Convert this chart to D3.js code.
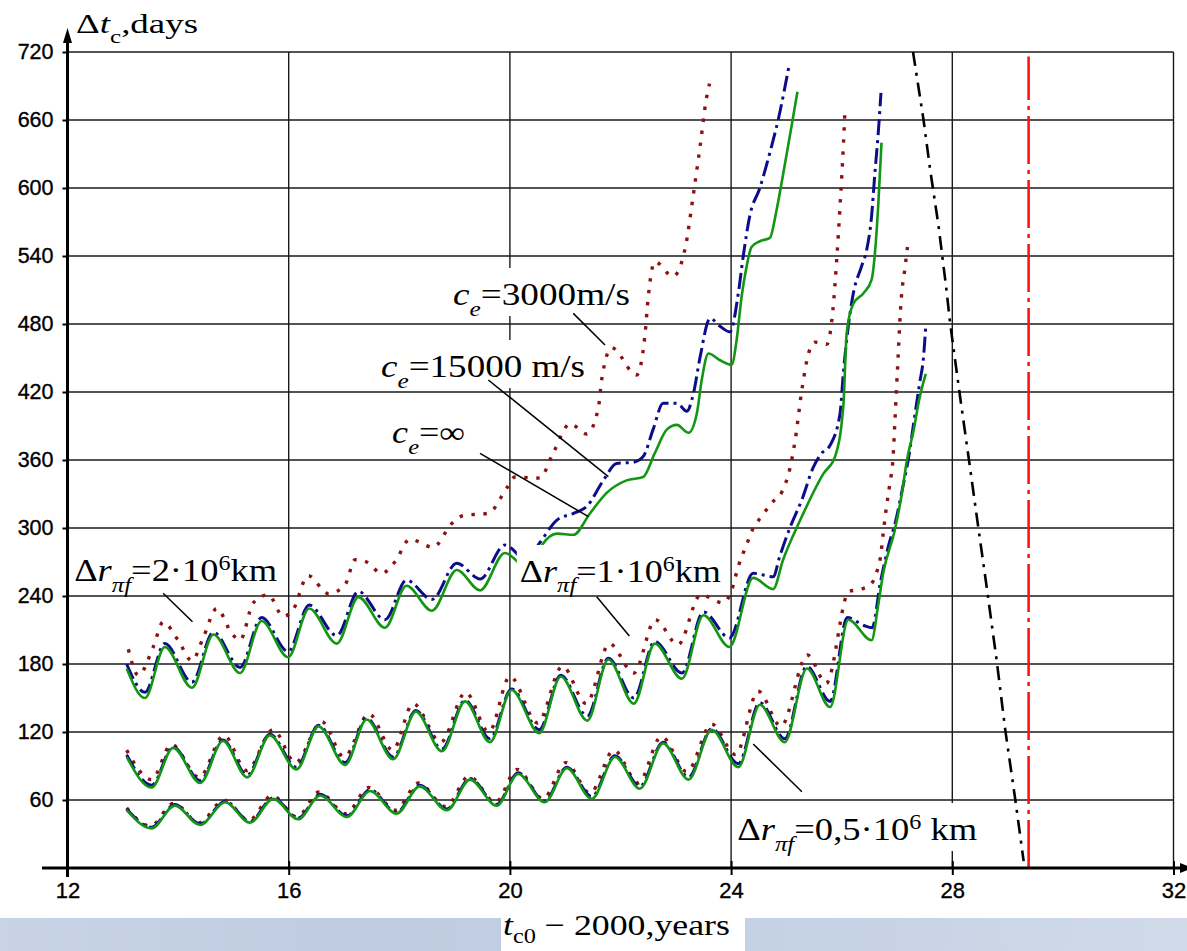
<!DOCTYPE html>
<html><head><meta charset="utf-8">
<script src="https://cdn.jsdelivr.net/npm/d3@7"></script>
<style>
html,body{margin:0;padding:0;background:#fff;}
svg{display:block;}
</style></head><body>
<svg id="chart" width="1187" height="951"></svg>
<script>
// ---------------- data ----------------
const xTicks = [12,16,20,24,28,32];
const yTicks = [60,120,180,240,300,360,420,480,540,600,660,720];

// Δr = 2·10^6 km family
const green2 = [[13.07,176],[13.40,150],[13.76,195],[14.25,159],[14.64,206],[15.12,172],[15.51,218],[15.99,186],[16.37,229],[16.87,198],[17.26,239],[17.74,212],[18.13,249],[18.59,227],[19.04,263],[19.46,245],[19.91,278],[20.35,263],[20.58,285],[20.85,295],[21.15,294],[21.45,313],[21.75,331],[22.11,342],[22.41,345],[22.62,366],[22.84,387],[23.02,391],[23.23,384],[23.38,401],[23.47,431],[23.59,454],[23.80,448],[24.01,444],[24.10,466],[24.19,504],[24.27,528],[24.37,548],[24.52,553],[24.70,556],[24.82,580],[24.94,612],[25.07,648],[25.20,685]];
const blue2 = [[13.07,180],[13.40,155],[13.76,198],[14.25,164],[14.64,208],[15.12,177],[15.51,221],[15.99,191],[16.37,232],[16.87,205],[17.26,244],[17.74,219],[18.13,254],[18.59,237],[19.04,269],[19.46,255],[19.91,285],[20.30,272],[20.54,287],[20.85,307],[21.15,313],[21.39,319],[21.69,342],[21.93,357],[22.23,358],[22.41,363],[22.59,387],[22.77,410],[23.02,410],[23.20,403],[23.32,419],[23.44,451],[23.62,485],[23.80,478],[23.98,473],[24.13,507],[24.22,540],[24.34,576],[24.52,600],[24.70,631],[24.86,662],[25.04,706]];
const brown2 = [[13.10,193],[13.28,170],[13.55,195],[13.73,217],[14.00,201],[14.25,183],[14.46,204],[14.70,229],[14.97,207],[15.12,201],[15.36,234],[15.63,241],[15.90,222],[16.08,228],[16.35,258],[16.72,242],[17.02,250],[17.20,272],[17.41,270],[17.68,260],[17.92,270],[18.19,290],[18.61,283],[18.95,304],[19.16,311],[19.61,313],[19.94,335],[20.09,345],[20.54,344],[20.78,366],[21.09,392],[21.39,383],[21.60,406],[21.66,431],[21.84,459],[22.29,435],[22.44,469],[22.50,503],[22.62,535],[22.95,522],[23.17,547],[23.32,595],[23.44,637],[23.55,678],[23.61,692]];

// Δr = 1·10^6 km family
const green1 = [[13.07,98],[13.52,71],[13.91,106],[14.40,75],[14.81,112],[15.25,80],[15.66,117],[16.14,87],[16.54,125],[17.02,91],[17.41,131],[17.89,96],[18.30,138],[18.77,103],[19.19,147],[19.64,111],[20.03,157],[20.53,119],[20.92,169],[21.40,130],[21.78,184],[22.24,145],[22.62,198],[23.11,167],[23.50,223],[23.97,195],[24.40,256],[24.76,246],[24.94,272],[25.25,307],[25.67,348],[25.88,363],[26.03,408],[26.09,472],[26.21,498],[26.39,507],[26.54,519],[26.60,542],[26.66,584],[26.72,640]];
const blue1 = [[13.07,100],[13.52,73],[13.91,107],[14.40,77],[14.81,113],[15.25,82],[15.66,118],[16.14,89],[16.54,126],[17.02,93],[17.41,132],[17.89,98],[18.30,139],[18.77,105],[19.19,148],[19.64,114],[20.03,158],[20.53,122],[20.92,170],[21.40,134],[21.78,185],[22.24,150],[22.62,200],[23.11,172],[23.50,226],[23.97,203],[24.40,260],[24.76,257],[24.88,275],[25.07,301],[25.28,325],[25.49,354],[25.64,366],[25.79,373],[25.97,401],[26.03,437],[26.09,466],[26.21,507],[26.36,531],[26.45,545],[26.54,575],[26.60,613],[26.66,648],[26.71,684]];
const brown1 = [[13.07,104],[13.52,78],[13.88,109],[14.38,80],[14.83,117],[15.24,86],[15.72,122],[16.12,93],[16.60,129],[17.00,98],[17.45,136],[17.88,104],[18.25,145],[18.75,111],[19.20,155],[19.62,120],[20.00,169],[20.50,128],[20.95,178],[21.38,145],[21.80,198],[22.24,172],[22.63,219],[23.04,197],[23.45,241],[23.85,234],[24.01,245],[24.13,266],[24.22,278],[24.31,289],[24.40,300],[24.55,310],[24.73,322],[24.92,332],[25.07,354],[25.16,378],[25.28,422],[25.40,454],[25.52,464],[25.73,462],[25.84,492],[25.91,537],[25.97,584],[26.03,637],[26.06,670]];

// Δr = 0,5·10^6 km family
const green05 = [[13.07,51],[13.52,35],[13.94,55],[14.40,38],[14.85,58],[15.30,40],[15.72,61],[16.17,43],[16.57,64],[17.05,45],[17.47,68],[17.95,48],[18.37,72],[18.86,51],[19.28,78],[19.76,55],[20.15,83],[20.63,58],[21.03,88],[21.48,61],[21.90,98],[22.35,70],[22.77,110],[23.23,78],[23.65,122],[24.13,89],[24.52,144],[24.97,111],[25.37,176],[25.79,142],[26.12,219],[26.54,201],[26.66,232],[26.75,260],[26.96,298],[27.08,328],[27.18,360],[27.30,386],[27.40,413],[27.52,436]];
const blue05 = [[13.07,52],[13.52,36],[13.94,56],[14.40,39],[14.85,59],[15.30,41],[15.72,62],[16.17,44],[16.57,65],[17.05,46],[17.47,69],[17.95,49],[18.37,73],[18.86,52],[19.28,79],[19.76,56],[20.15,84],[20.63,59],[21.03,89],[21.48,63],[21.90,99],[22.35,72],[22.77,111],[23.23,80],[23.65,123],[24.13,92],[24.52,146],[24.97,114],[25.37,178],[25.79,147],[26.10,221],[26.40,214],[26.55,212],[26.70,252],[26.85,285],[26.97,305],[27.10,335],[27.22,365],[27.30,392],[27.41,428],[27.48,451],[27.52,478]];
const brown05 = [[13.07,53],[13.50,37],[13.92,57],[14.38,40],[14.83,60],[15.28,42],[15.70,64],[16.15,45],[16.55,67],[17.03,48],[17.45,71],[17.93,51],[18.35,75],[18.84,54],[19.26,81],[19.74,58],[20.13,87],[20.60,61],[21.01,93],[21.45,66],[21.88,104],[22.32,75],[22.74,116],[23.20,85],[23.65,127],[24.08,100],[24.49,156],[24.90,125],[25.38,188],[25.72,163],[26.13,244],[26.35,246],[26.52,250],[26.64,262],[26.70,274],[26.75,295],[26.81,319],[26.87,339],[26.93,363],[26.96,392],[26.99,422],[27.02,451],[27.05,481],[27.08,504],[27.14,528],[27.19,548]];

// limit lines
const blackLine = [[27.29,720],[27.48,660],[27.60,616],[27.75,567],[27.89,512],[27.96,481],[28.14,416],[28.31,357],[28.48,297],[28.61,252],[28.80,184],[28.96,121],[29.14,60],[29.29,6]];
const redLine = [[29.38,0],[29.38,716]];

// annotations (data coordinates)
const leaders = [
  [[21.146,489.4],[21.72,461.5]],
  [[19.61,430.6],[21.78,345.3]],
  [[19.46,365.9],[21.42,310.0]],
  [[13.73,242.4],[14.26,217.3]],
  [[21.57,239.4],[22.16,204.7]],
  [[24.40,109.4],[25.28,67.3]]
];

// ---------------- drawing ----------------
const W = 1187, H = 951;
const svg = d3.select("#chart");
const x = d3.scaleLinear().domain([12,32]).range([67.5,1173.5]);
const y = d3.scaleLinear().domain([0,720]).range([868,52]);
const SERIF = "'Liberation Serif','Times New Roman',serif";
const SANS = "'Liberation Sans',Arial,Helvetica,sans-serif";

// bottom textured band
const defs = svg.append("defs");
const grad = defs.append("linearGradient").attr("id","band").attr("x1","0").attr("x2","1").attr("y1","0").attr("y2","0");
grad.append("stop").attr("offset","0").attr("stop-color","#c8d3e6");
grad.append("stop").attr("offset","0.3").attr("stop-color","#bfcce1");
grad.append("stop").attr("offset","0.7").attr("stop-color","#c6d2e5");
grad.append("stop").attr("offset","1").attr("stop-color","#d0dae9");
svg.append("rect").attr("x",0).attr("y",918).attr("width",W).attr("height",H-918).attr("fill","url(#band)");
svg.append("rect").attr("x",501).attr("y",914).attr("width",244).attr("height",H-914).attr("fill","#fff");

// grid
const grid = svg.append("g").attr("stroke","#1a1a1a").attr("stroke-width",1.4);
grid.selectAll("line.h").data(yTicks).join("line").attr("class","h")
  .attr("x1",x(12)).attr("x2",x(32)).attr("y1",d=>y(d)).attr("y2",d=>y(d));
grid.selectAll("line.v").data(xTicks.slice(1)).join("line").attr("class","v")
  .attr("x1",d=>x(d)).attr("x2",d=>x(d)).attr("y1",y(0)).attr("y2",y(720));

// series
const line = d3.line().x(d=>x(d[0])).y(d=>y(d[1])).curve(d3.curveMonotoneX);
const styles = {
  brown: {stroke:"#8c1212", width:3.4, dash:"3.4,8.6"},
  blue:  {stroke:"#0d0d8c", width:3, dash:"16,5,3,5"},
  green: {stroke:"#139613", width:2.6, dash:null}
};
const series = [
  [brown2,"brown"],[blue2,"blue"],[green2,"green"],
  [brown1,"brown"],[blue1,"blue"],[green1,"green"],
  [brown05,"brown"],[blue05,"blue"],[green05,"green"]
];
const sg = svg.append("g").attr("fill","none");
series.forEach(([d,k])=>{
  const s = styles[k];
  const p = sg.append("path").datum(d).attr("d",line)
    .attr("stroke",s.stroke).attr("stroke-width",s.width).attr("stroke-linejoin","round");
  if (s.dash) p.attr("stroke-dasharray",s.dash);
});
sg.append("path").datum(blackLine).attr("d",d3.line().x(d=>x(d[0])).y(d=>y(d[1])).curve(d3.curveLinear))
  .attr("stroke","#000").attr("stroke-width",2.6).attr("stroke-dasharray","14,7,3,7");
sg.append("path").datum(redLine).attr("d",d3.line().x(d=>x(d[0])).y(d=>y(d[1])))
  .attr("stroke","#ff1414").attr("stroke-width",2.6).attr("stroke-dasharray","48,6,4,6");

// axes
const yAxis = d3.axisLeft(y).tickValues(yTicks).tickSize(5).tickPadding(9);
const gy = svg.append("g").attr("transform",`translate(${x(12)},0)`).call(yAxis);
gy.select(".domain").remove();
gy.selectAll("text").attr("font-family",SANS).attr("font-size",21.5).attr("fill","#000")
  .attr("stroke","#000").attr("stroke-width",0.35);
gy.selectAll("line").attr("stroke","#000").attr("stroke-width",2);

const xAxis = d3.axisBottom(x).tickValues(xTicks).tickSize(7).tickPadding(7);
const gx = svg.append("g").attr("transform",`translate(0,${y(0)})`).call(xAxis);
gx.select(".domain").remove();
gx.selectAll("text").attr("font-family",SANS).attr("font-size",22).attr("fill","#000")
  .attr("stroke","#000").attr("stroke-width",0.35);
gx.selectAll("line").attr("stroke","#000").attr("stroke-width",2).attr("y1",-7);

// thick axis lines with arrows
svg.append("line").attr("x1",x(12)).attr("x2",x(12)).attr("y1",y(0)+9).attr("y2",40)
  .attr("stroke","#000").attr("stroke-width",3);
svg.append("path").attr("d",`M${x(12)-4.5},43 L${x(12)+4.5},43 L${x(12)},28 Z`).attr("fill","#000");
svg.append("line").attr("x1",42).attr("x2",1183).attr("y1",y(0)).attr("y2",y(0))
  .attr("stroke","#000").attr("stroke-width",3);
svg.append("path").attr("d",`M1180,${y(0)-5} L1180,${y(0)+5} L1193,${y(0)} Z`).attr("fill","#000");

// labels
function makeLabel(parts, px, py, size, targetW, box, subK) {
  const sk = subK || 0.34;
  const g = svg.append("g");
  const bg = box ? g.append("rect").attr("fill","#fff") : null;
  const t = g.append("text").attr("font-family",SERIF).attr("font-size",size).attr("fill","#000")
    .attr("x",0).attr("y",0);
  let cur = 0;
  parts.forEach(p=>{
    let off = 0, fs = size;
    if (p.sub) { off = size*sk; fs = size*0.68; }
    if (p.sup) { off = -size*0.36; fs = size*0.66; }
    const ts = t.append("tspan").text(p.t).attr("font-size",fs).attr("dy",off-cur);
    if (p.i) ts.attr("font-style","italic");
    cur = off;
  });
  const w = t.node().getComputedTextLength();
  const sx = targetW / w;
  t.attr("transform",`translate(${px},${py}) scale(${sx},1)`);
  if (bg) bg.attr("x",px-3).attr("y",py-37).attr("width",targetW+6).attr("height",48);
  return g;
}
const ceParts = v => [{t:"c",i:1},{t:"e",i:1,sub:1},{t:v}];
const drParts = (v,u) => [{t:"Δ"},{t:"r",i:1},{t:"πf",i:1,sub:1},{t:v},{t:"6",sup:1},{t:u}];

makeLabel(ceParts("=3000m/s"), x(18.97), y(496.8), 31, 177, true);
makeLabel(ceParts("=15000 m/s"), x(17.67), y(433.2), 31, 204, true);
makeLabel(ceParts("=∞"), x(17.87), y(375.0), 31, 73, true);
makeLabel(drParts("=2·10","km"), x(12.12), y(253.2), 31, 203, false);
makeLabel(drParts("=1·10","km"), x(20.18), y(252.4), 31, 201, true);
makeLabel(drParts("=0,5·10"," km"), x(24.11), y(24.7), 31, 240, true);

// leader lines
svg.append("g").attr("stroke","#000").attr("stroke-width",1.5)
  .selectAll("line").data(leaders).join("line")
  .attr("x1",d=>x(d[0][0])).attr("y1",d=>y(d[0][1]))
  .attr("x2",d=>x(d[1][0])).attr("y2",d=>y(d[1][1]));

// axis titles
makeLabel([{t:"Δ"},{t:"t",i:1},{t:"c",sub:1},{t:",days"}], x(12)+8.5, 33, 28, 122, false);
makeLabel([{t:"t",i:1},{t:"c0",sub:1},{t:" − 2000,years"}], 503, 935, 30, 227, false, 0.27);
</script>
</body></html>
